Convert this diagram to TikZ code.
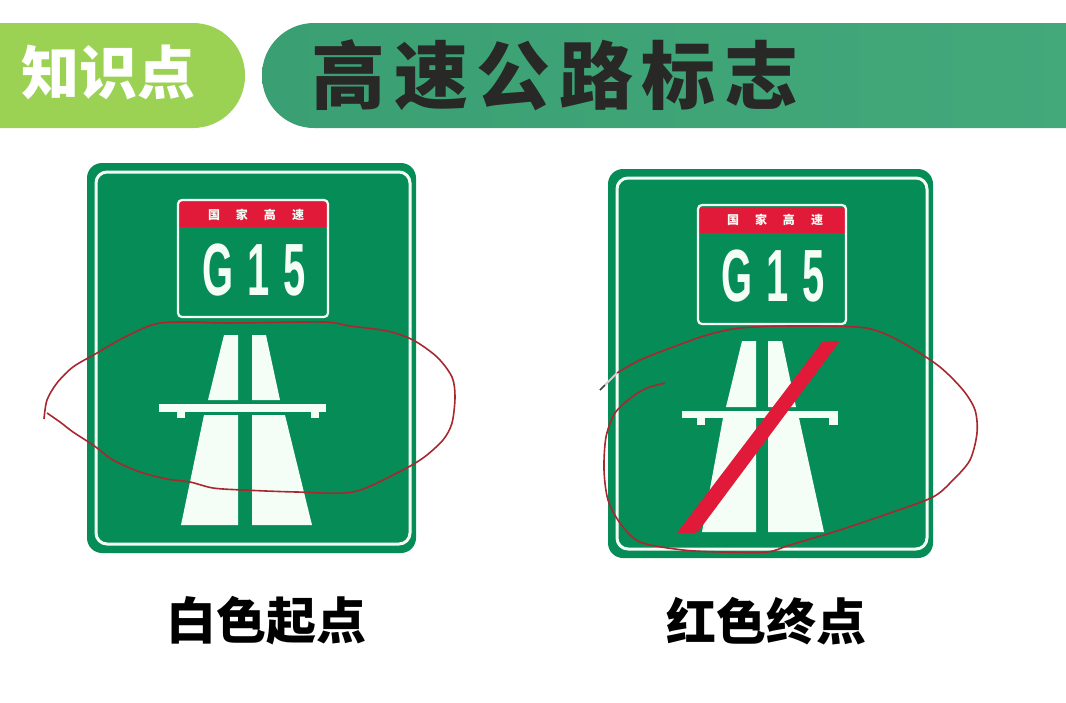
\documentclass[tikz,border=0pt]{standalone}
\usepackage{fontspec}
\newfontfamily\cjk{Noto Sans CJK SC}
\newfontfamily\latin{Liberation Sans}
\definecolor{signgreen}{HTML}{068C57}
\definecolor{signred}{HTML}{E01A38}
\definecolor{inkred}{HTML}{A8282F}
\definecolor{signwhite}{HTML}{F4FDF6}
\newcommand{\plateno}{\scalebox{.54}[1]{\latin\bfseries G\hspace{26pt}1\hspace{26pt}5}}
\newcommand{\platetag}{\cjk\bfseries 国\hspace{16pt}家\hspace{16pt}高\hspace{16pt}速}
\begin{document}
\begin{tikzpicture}[x=1pt,y=-1pt,
    signbody/.style={fill=signgreen,rounded corners=15pt},
    signline/.style={draw=signwhite,line width=3pt,rounded corners=11pt},
    plate/.style={draw=signwhite,line width=2.2pt,rounded corners=4pt},
    lane/.style={fill=signwhite},
    scribble/.style={draw=inkred,line width=1.6pt,line join=round},
    caption/.style={font=\cjk\bfseries\fontsize{50}{50}\selectfont,text=black,inner sep=0pt},
    platetext/.style={font=\fontsize{74}{74}\selectfont,text=signwhite,inner sep=0pt},
    tagtext/.style={font=\fontsize{12}{12}\selectfont,text=signwhite,inner sep=0pt}]
    \useasboundingbox (0,0) rectangle (1066,702);
    \clip (0,0) rectangle (1066,702);
    \fill[color={rgb,255:red,155;green,210;blue,83},rounded corners=52pt] (-80,23) rectangle (245,128);
    \shade[left color={rgb,255:red,58;green,160;blue,115},right color={rgb,255:red,68;green,170;blue,124},rounded corners=52pt] (262,23) rectangle (1180,128);
    \node[inner sep=0pt,text=white,font=\cjk\bfseries\fontsize{58}{58}\selectfont] (tag) at (108,72) {知识点};
    \node[inner sep=0pt,text={rgb,255:red,40;green,40;blue,38},font=\cjk\bfseries\fontsize{74}{74}\selectfont] (title) at (555,75) {高\hspace{8.5pt}速\hspace{8.5pt}公\hspace{8.5pt}路\hspace{8.5pt}标\hspace{8.5pt}志};
    \fill[signbody] (87,163) rectangle (416,553);
    \draw[signline] (96,172) rectangle (410,544);
    \fill[signred] (178,202) rectangle (328,227);
    \draw[plate] (178,200) rectangle (328,317);
    \node[tagtext] (tagA) at (256,215) {\platetag};
    \node[platetext] (noA) at (254,270) {\plateno};
    \fill[lane] (224,335)--(238,335)--(238,400)--(208,400)--cycle;
    \fill[lane] (252,335)--(266,335)--(280,400)--(252,400)--cycle;
    \fill[lane] (204,415)--(238,415)--(238,525)--(181,525)--cycle;
    \fill[lane] (252,415)--(285,415)--(312,525)--(252,525)--cycle;
    \fill[lane] (159,404) rectangle (326,412);
    \fill[lane] (177,412) rectangle (185,418);
    \fill[lane] (311,412) rectangle (319,418);
    \draw[scribble] plot[smooth,tension=.5] coordinates {(44,419) (47,400) (57,383) (73,367) (97,353) (123,338) (155,324) (187,322) (230,323) (323,322) (350,326) (387,331) (413,340) (437,357) (452,377) (455,397) (452,423) (443,440) (423,458) (397,473) (353,492) (297,492) (243,490) (213,488) (190,482) (167,479) (140,472) (113,460) (93,445) (73,432) (60,422) (47,413)};
    \node[caption] (capA) at (266,621) {白色起点};
    \fill[signbody] (608,169) rectangle (933,558);
    \draw[signline] (617,178) rectangle (927,549);
    \fill[signred] (698,208) rectangle (846,233);
    \draw[plate] (698,205) rectangle (846,324);
    \node[tagtext] (tagB) at (775,220) {\platetag};
    \node[platetext] (noB) at (773,276) {\plateno};
    \fill[lane] (742,341)--(756,341)--(756,407)--(726,407)--cycle;
    \fill[lane] (768,341)--(782,341)--(796,407)--(768,407)--cycle;
    \fill[lane] (723,418)--(756,418)--(756,532)--(702,532)--cycle;
    \fill[lane] (768,418)--(799,418)--(824,532)--(768,532)--cycle;
    \fill[lane] (682,411) rectangle (838,418);
    \fill[lane] (697,418) rectangle (705,425);
    \fill[lane] (829,418) rectangle (838,425);
    \fill[signred,rounded corners=2pt] (823,341)--(840,341)--(697,533)--(677,533)--cycle;
    \draw[scribble] plot[smooth,tension=.5] coordinates {(617,373) (640,360) (673,347) (707,335) (740,328) (790,326) (857,327) (883,333) (910,347) (940,367) (963,390) (975,410) (977,433) (970,460) (953,480) (933,497) (890,513) (840,530) (790,545) (767,552) (723,552) (683,550) (640,542) (620,523) (608,500) (604,470) (606,437) (615,413) (632,397) (647,388) (665,383)};
    \draw[line width=2pt,color={rgb,255:red,205;green,205;blue,205}] (617,373)--(605,385);
    \draw[line width=1.6pt,color={rgb,255:red,70;green,60;blue,70}] (605,385)--(600,390);
    \node[caption] (capB) at (766,621) {红色终点};
\end{tikzpicture}
\end{document}
